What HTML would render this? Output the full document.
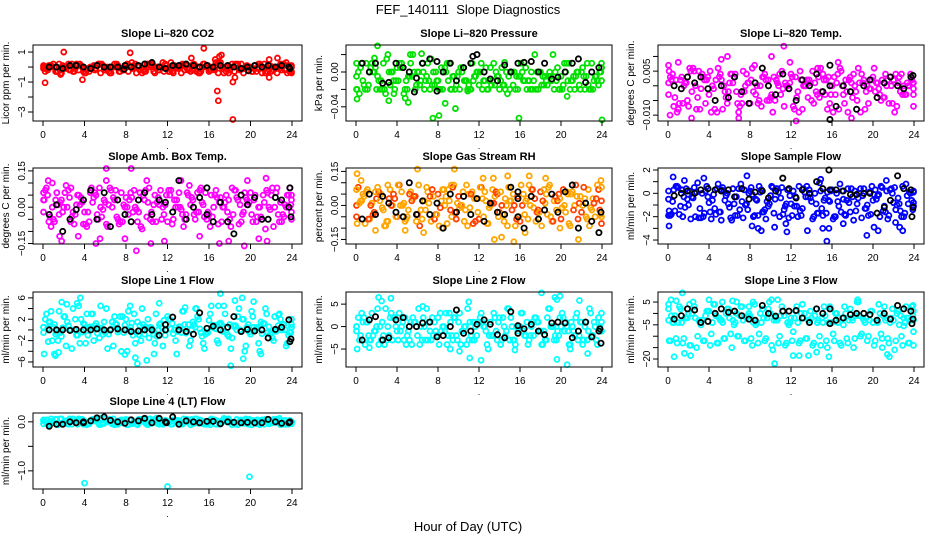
<!DOCTYPE html>
<html><head><meta charset="utf-8"><style>
html,body{margin:0;padding:0;background:#fff;}
svg{display:block;font-family:"Liberation Sans",sans-serif;}
</style></head><body>
<svg id="chart" width="936" height="540" viewBox="0 0 936 540" xmlns="http://www.w3.org/2000/svg">
<text x="468" y="14" text-anchor="middle" font-size="13">FEF_140111&#160;&#160;Slope Diagnostics</text>
<text x="468" y="531" text-anchor="middle" font-size="13">Hour of Day (UTC)</text>
</svg>
<script>
// shared hour categories
const hoursA = [0,0.67,1.33,2,2.67,3.33,4,4.67,5.33,6,6.67,7.33,8,8.67,9.33,10,10.67,11.33,12,12.67,13.33,14,14.67,15.33,16,16.67,17.33,18,18.67,19.33,20,20.67,21.33,22,22.67,23.33,24];
const blackHours = [0.6,1.3,1.9,2.6,3.2,3.9,4.6,5.2,5.9,6.5,7.2,7.9,8.5,9.2,9.8,10.5,11.2,11.8,12.5,13.1,13.8,14.5,15.1,15.8,16.4,17.1,17.8,18.4,19.1,19.7,20.4,21.1,21.7,22.4,23.0,23.7];
const xTicks = [0,4,8,12,16,20,24];

// Panel 1 CO2
const co2A = [-0.1,0.1,-0.3,0.0,-0.2,0.1,-0.4,-0.1,0.2,-0.2,0.0,-0.3,0.1,-0.1,-0.2,0.2,-0.3,0.0,-0.1,0.1,-0.4,-0.2,0.1,0.0,-0.3,0.3,-0.1,-0.2,0.1,-0.4,0.0,-0.1,0.2,-0.3,0.0,-0.2,0.1];
const co2B = [0.1,-0.2,0.0,-0.4,0.2,-0.1,0.0,-0.3,-0.1,0.1,-0.4,0.2,-0.2,0.0,0.1,-0.3,0.1,-0.2,0.2,-0.3,0.0,0.1,-0.2,-0.4,0.1,-0.1,0.3,0.0,-0.3,0.2,-0.2,0.1,-0.4,0.1,-0.1,0.2,-0.3];
const co2C = [-0.3,0.0,0.2,-0.1,-0.3,0.2,-0.2,0.1,-0.4,0.0,0.2,-0.1,-0.3,0.2,-0.4,0.0,-0.1,0.3,-0.3,0.0,0.1,-0.3,0.0,0.2,-0.2,-0.4,0.0,0.2,-0.1,0.0,-0.3,0.2,0.0,-0.2,0.2,-0.4,0.0];
const co2Out = [[0.2,-1.05],[2,1.0],[3.8,-0.85],[8.4,0.95],[14.3,0.6],[15.5,1.25],[16.8,-1.6],[16.9,-2.25],[18.3,-3.5],[18.3,-1.0],[18.5,-0.7],[17,0.7],[17.2,0.8],[16.6,0.5],[21.8,0.5],[22.6,0.6],[21.8,-0.7],[1.7,-0.5]];
const co2Black = [0.0,0.0,-0.1,0.1,0.1,0.0,-0.1,0.1,0.0,0.0,0.0,0.1,0.0,0.1,0.2,0.3,0.0,-0.1,0.1,0.1,0.2,0.1,0.0,0.1,0.0,0.1,0.1,0.0,-0.1,0.0,0.1,0.0,0.1,0.0,0.1,0.0];
const co2BlackExtra = [[7.8,-0.15],[19.8,-0.25],[23.8,-0.1]];

// Panel 2 Pressure
const presA = [0.01,-0.01,0.00,-0.02,0.01,-0.015,0.005,-0.025,0.01,0.00,-0.02,0.015,-0.01,0.005,-0.02,0.0,-0.01,0.01,-0.015,0.005,-0.01,-0.02,0.0,-0.015,-0.005,-0.02,-0.01,0.0,-0.015,-0.02,-0.005,-0.01,-0.02,0.0,-0.015,-0.005,0.005];
const presB = [-0.005,0.005,-0.02,0.0,-0.01,0.02,-0.02,0.01,-0.005,-0.02,0.01,-0.01,0.0,-0.02,0.01,-0.015,0.005,-0.02,0.0,-0.01,0.005,-0.005,-0.015,0.0,-0.02,-0.01,0.0,-0.02,-0.005,-0.01,-0.02,0.0,-0.01,-0.015,-0.005,-0.02,0.0];
const presC = [0.0,-0.02,0.01,-0.01,-0.025,0.0,0.01,-0.01,0.02,-0.015,-0.005,0.0,-0.02,0.01,-0.005,0.005,-0.02,-0.005,0.01,-0.02,-0.015,0.005,-0.005,-0.02,0.0,-0.01,-0.02,-0.005,0.0,-0.01,-0.015,-0.02,0.0,-0.005,-0.02,-0.01,-0.01];
const presOut = [[0.1,-0.031],[2.1,0.03],[1.8,0.016],[3.2,-0.033],[3.7,-0.025],[4.8,-0.03],[5.1,-0.035],[5.3,0.02],[6.4,0.021],[7.5,-0.053],[8.1,-0.05],[8.7,-0.036],[9.7,-0.042],[15.9,-0.053],[24,-0.055],[20.6,-0.028],[14.5,0.011],[10.9,-0.022]];
const presBlack = [0.01,0.0,0.01,-0.013,-0.012,0.01,0.005,0.0,-0.007,0.01,0.015,-0.022,0.0,0.01,-0.01,0.005,0.01,0.02,0.0,-0.008,-0.01,0.008,0.0,0.01,0.011,0.012,0.0,0.01,-0.008,-0.006,0.0,0.01,0.015,-0.012,0.0,0.005];
const presBlackExtra = [[11.4,0.018],[7.9,0.012],[5.7,-0.023]];

// Panel 3 Li-820 Temp
const tempA = [0.001,-0.004,0.003,-0.007,0.0,0.004,-0.003,0.002,-0.008,0.001,-0.002,0.005,-0.006,0.0,0.003,-0.004,0.001,-0.007,0.004,-0.002,0.0,-0.005,0.003,-0.003,0.0,-0.008,0.002,-0.004,0.001,-0.002,0.003,-0.003,0.0,0.002,-0.002,0.001,-0.001];
const tempB = [-0.003,0.004,-0.006,0.001,0.006,-0.008,0.002,-0.001,0.004,-0.006,0.003,-0.003,0.001,0.007,-0.007,0.002,-0.005,0.005,-0.001,0.003,-0.008,0.002,-0.002,0.004,-0.006,0.001,-0.003,0.003,-0.005,0.002,-0.001,0.001,-0.004,0.0,0.001,-0.003,0.002];
const tempC = [0.003,-0.009,0.0,0.005,-0.004,0.002,-0.009,0.006,-0.002,0.004,-0.009,0.0,0.006,-0.005,0.002,-0.009,0.004,0.0,-0.007,0.005,0.002,-0.006,0.006,-0.008,0.003,0.005,-0.009,0.0,0.004,-0.006,-0.002,0.002,-0.006,0.004,-0.003,0.0,0.001];
const tempOut = [[1,0.008],[0.2,-0.01],[2.3,-0.011],[5.2,0.009],[5.8,0.01],[6.9,-0.011],[10.1,0.01],[11.3,0.0135],[11.9,0.008],[12.5,-0.012],[16.6,0.008],[17.9,-0.011],[14.6,0.006]];
const tempBlack = [0.0,-0.001,0.003,0.001,0.003,-0.001,-0.005,0.0,-0.004,0.003,-0.002,-0.006,0.001,0.006,0.0,-0.003,0.004,-0.001,-0.005,0.002,0.0,0.004,-0.002,0.0,-0.007,0.0,-0.002,-0.008,0.000,0.002,-0.004,0.001,0.003,0.0,-0.001,0.003];
const tempBlackExtra = [[15.8,-0.0115],[15.8,0.007],[23.9,0.0035]];

// Panel 4 Amb. Box Temp
const ambA = [0.03,-0.04,0.06,0.0,-0.06,0.05,-0.02,0.08,-0.05,0.02,0.0,-0.07,0.04,-0.02,0.06,-0.04,0.01,0.07,-0.06,0.03,-0.01,0.05,-0.05,0.02,-0.03,0.07,0.0,-0.05,0.04,-0.02,0.06,-0.04,0.02,0.05,-0.03,0.01,0.03];
const ambB = [-0.02,0.05,-0.06,0.03,0.07,-0.03,0.02,-0.06,0.05,-0.01,0.08,-0.04,0.01,0.06,-0.06,0.03,-0.02,0.04,0.01,-0.07,0.06,-0.03,0.03,0.07,-0.05,0.0,0.04,-0.02,0.07,-0.06,0.01,0.05,-0.05,0.0,0.06,-0.03,0.08];
const ambC = [0.07,0.0,-0.03,0.09,-0.02,0.01,-0.08,0.04,0.0,-0.08,0.03,0.06,-0.03,0.0,-0.09,0.08,-0.06,0.0,0.05,0.03,-0.08,0.01,0.06,-0.04,0.05,-0.07,0.02,0.08,-0.07,0.04,-0.06,0.0,0.07,-0.08,0.02,0.05,-0.05];
const ambOut = [[0.5,0.11],[0.9,0.1],[1.6,-0.12],[1.8,-0.14],[2.7,0.08],[3.4,-0.12],[5.1,-0.15],[5.5,-0.13],[6.1,0.16],[6.1,0.11],[8.5,0.16],[7.9,-0.13],[9.0,-0.18],[10,0.11],[10.4,-0.15],[11.7,-0.14],[13.3,0.11],[15.1,-0.12],[17,-0.15],[17.9,-0.14],[19.4,-0.16],[20.8,-0.13],[21.6,-0.14],[19.7,0.11],[21.5,0.12]];
const ambBlack = [-0.03,0.01,-0.1,-0.05,-0.01,0.03,0.07,-0.05,0.06,-0.08,0.03,-0.03,-0.06,0.03,0.06,-0.03,0.03,0.02,-0.02,0.11,-0.05,0.0,0.04,0.08,-0.06,0.02,-0.06,-0.11,0.05,0.01,0.04,-0.05,-0.05,0.04,0.03,0.0];
const ambBlackExtra = [[23.8,0.08],[23.9,-0.04],[15.8,-0.03]];

// Panel 5 Gas Stream RH
const rhA = [0.0,0.05,-0.06,0.03,-0.02,0.07,-0.05,0.01,0.06,-0.04,0.02,-0.07,0.05,0.0,-0.05,0.04,-0.02,0.06,-0.06,0.02,0.07,-0.03,0.0,0.05,-0.07,0.03,-0.01,0.06,-0.04,0.02,-0.06,0.05,0.0,-0.03,0.07,-0.05,0.02];
const rhB = [-0.05,0.02,0.07,-0.03,0.05,-0.07,0.03,0.06,-0.02,0.04,-0.06,0.01,-0.04,0.07,0.02,-0.06,0.06,-0.01,0.03,-0.05,0.0,0.05,-0.07,0.02,0.04,-0.04,0.07,-0.02,0.01,-0.07,0.05,-0.03,0.06,0.01,-0.05,0.03,-0.02];
const rhC = [0.08,-0.08,0.01,0.06,-0.09,0.0,0.09,-0.06,0.03,-0.09,0.08,0.04,-0.01,-0.08,0.09,0.0,-0.09,0.03,0.08,-0.08,0.04,0.0,0.08,-0.09,0.0,0.09,-0.07,0.02,0.09,-0.02,0.07,-0.09,0.04,0.08,-0.01,0.09,-0.08];
const rhOut = [[0.1,0.14],[0.5,0.11],[1.9,-0.11],[3.1,0.09],[4.8,-0.11],[6,0.16],[6.6,-0.12],[8.4,-0.1],[9.6,0.16],[9.3,0.09],[12.4,0.12],[13.4,0.12],[13.5,-0.15],[14.2,-0.14],[14.8,0.13],[15.4,-0.16],[16.5,-0.12],[16.9,0.13],[18.5,0.12],[21.7,-0.15],[19.9,-0.1],[23.9,0.11]];
const rhBlack = [-0.06,0.05,-0.04,0.04,0.01,-0.03,-0.05,0.1,-0.04,0.02,-0.04,0.01,-0.1,0.05,-0.03,0.04,-0.04,0.03,-0.07,0.01,-0.03,-0.04,0.08,-0.05,-0.1,0.04,-0.06,-0.02,0.05,-0.03,0.06,0.09,-0.1,0.01,-0.07,-0.12];
const rhBlackExtra = [[15.8,0.03],[15.8,0.06],[23.9,-0.03]];

// Panel 6 Sample Flow
const sfA = [-0.5,-1.5,0.3,-1.0,-2.0,0.0,-0.8,-1.8,0.5,-1.2,-0.3,-2.1,0.2,-0.6,-1.6,-0.2,0.4,-1.4,-0.9,-2.0,0.1,-0.7,-1.7,-0.4,0.3,-1.1,-1.9,-0.3,0.0,-1.3,-0.6,-2.0,0.2,-0.8,-1.5,-0.2,0.1];
const sfB = [0.2,-0.7,-1.8,0.4,-0.4,-1.3,0.6,-0.1,-1.6,0.0,-0.9,0.8,-1.4,-1.9,0.3,-1.1,-0.5,0.5,-2.1,-0.3,-1.3,0.3,-0.9,-1.9,-0.7,0.0,-0.5,-1.6,-0.9,0.4,-1.8,-0.2,-1.1,0.4,-0.4,-1.7,-0.6];
const sfC = [-1.9,0.6,-0.3,-2.2,0.9,-1.7,-2.2,0.8,-0.6,-2.3,0.4,-1.0,-0.1,0.6,-2.2,0.5,-2.0,-0.9,0.2,-1.5,0.6,-2.0,0.2,0.1,-2.0,-1.6,0.4,0.2,-2.1,-1.9,0.3,0.5,-1.9,-1.4,0.6,0.1,-1.1];
const sfOut = [[0.1,-2.8],[0.5,1.4],[1.6,1.1],[3.5,1.3],[5.2,-2.3],[7.7,1.5],[8.2,-2.8],[8.8,-3.0],[9.1,-3.2],[10.4,-2.9],[11.5,-2.6],[11.6,-3.3],[13.6,-3.2],[14.9,1.2],[15.1,-3.0],[15.5,-4.1],[15.7,-3.0],[17.1,-2.6],[19.4,-3.6],[20.1,-2.9],[20.5,-3.2],[21.3,1.1],[22.2,-2.5],[22.6,-2.9],[22.9,-3.2]];
const sfBlack = [-0.2,0.0,0.2,0.0,0.3,0.4,0.3,0.2,0.3,-0.3,0.4,-0.5,0.1,0.2,-0.4,0.2,1.3,0.4,-0.4,0.3,0.0,1.0,0.4,0.3,0.3,0.2,-0.1,-0.1,0.0,0.0,-1.7,-1.2,-0.6,1.5,0.4,0.3];
const sfBlackExtra = [[15.7,2.0],[23.9,-1.2],[23.8,-2.0]];

// Panel 7 Line 1 Flow
const l1A = [0.5,1.5,-0.5,2.5,0.0,-1.0,1.0,3.0,0.5,-0.5,1.5,0.0,2.0,-1.0,0.8,0.3,-0.8,1.2,2.5,0.0,-0.5,1.0,0.5,-1.2,1.8,0.2,-0.3,1.0,0.0,2.0,-0.8,0.5,1.2,-0.5,0.8,0.0,0.5];
const l1B = [-0.5,0.3,1.0,-1.2,0.8,2.0,-0.4,0.3,1.2,-0.8,0.0,1.0,-0.5,0.5,1.5,-0.8,0.4,0.0,-1.0,1.2,0.6,-0.6,1.5,0.2,-0.4,0.9,1.3,-0.9,0.6,-0.2,1.0,0.0,-0.7,0.6,-0.3,1.0,-0.5];
const l1C = [2.0,-2.0,3.5,-3.0,4.0,-2.5,3.0,-2.0,4.5,-3.5,2.5,-4.0,3.5,-2.5,4.0,-1.5,3.0,-3.0,2.0,-4.5,3.5,-2.0,2.5,-3.5,4.5,-2.5,3.0,-1.5,4.0,-3.0,2.5,-4.0,3.0,-2.0,2.0,-2.5,0.5];
const l1Out = [[0.5,-2.2],[1.1,-4.5],[1.2,-4.8],[1.5,-4.2],[1.8,5.2],[2.3,4.8],[3.3,5.0],[3.6,6.0],[7.9,-4.6],[8.4,4.5],[8.9,-5.2],[9.1,-6.3],[10,-5.7],[10.7,-4.5],[11.2,5.0],[13.7,4.2],[14.7,4.0],[17.1,6.8],[16.9,4.5],[18.1,-6.7],[18.5,5.5],[19.2,6.0],[19.3,-5.4],[20.3,5.3],[21,-4.5],[22.7,2.8]];
const l1Black = [0.0,0.0,0.0,-0.1,0.1,0.0,0.0,0.2,0.0,0.0,0.2,0.0,-0.3,-0.2,0.0,0.0,-1.0,0.0,2.4,0.0,-0.3,-0.8,3.2,0.3,0.7,0.0,0.5,2.5,-0.3,0.1,-0.2,0.0,-1.5,0.1,0.5,1.9];
const l1BlackExtra = [[23.9,-1.7],[23.8,-2.2],[11.8,1.0]];

// Panel 8 Line 2 Flow
const l2A = [-1,1,-3,0,-2,2,-1,-3,1,-2,0,-3,2,-1,-2,1,0,-3,1,-1,-2,2,-1,-3,0,1,-2,-1,2,-3,0,-1,-2,1,-1,0,-1];
const l2B = [0,-2,1,-1,-3,0,2,0,-1,1,-3,1,-1,0,3,-2,-1,1,-2,0,1,-3,0,2,-1,-2,0,1,-3,0,-2,1,0,-2,1,-2,0];
const l2C = [2,-4,3,-4,4,-3,3,-4,2,-4,4,-2,3,-4,2,-4,4,-3,3,-5,2,-3,4,-4,3,-3,2,-4,4,-3,2,-4,3,-3,3,-4,1];
const l2Out = [[1.3,-4.7],[2.2,6.5],[2.5,5.7],[3.4,6.3],[6.5,4.5],[9.2,-5],[10.1,-5.5],[11,5.5],[11.1,-7],[12.2,-7.5],[15.5,-5.2],[18.1,7.5],[19.6,-7.3],[19.4,6.5],[19.6,6],[19.9,6.8],[20.6,-8.5],[20.9,-5],[22.6,-6],[21.8,5.8]];
const l2Black = [-3,1.5,2.2,-3,-2.5,1.5,2,0,0,0.8,1,-2.3,-2,0,3.7,-1.5,-1,0.5,1.5,0.5,-1.8,-2.5,3.3,0.2,-0.5,0.5,-1,-1.8,0.8,1,0.8,-2.5,-1,1,-2.3,-1];
const l2BlackExtra = [[23.9,-3.7],[23.8,-0.5],[15.8,-1.5]];

// Panel 9 Line 3 Flow
const l3A = [-3,-1,-4,0,-2,-3,1,-1,-4,-2,0,-3,-1,-4,-2,0,-3,-1,-2,-4,0,-2,-3,-1,-4,-2,0,-3,-1,-2,-4,0,-2,-3,-1,-2,-3];
const l3B = [2,-4,3,-2,5,-4,1,4,-3,2,-5,3,-1,4,-4,2,-2,3,-5,1,4,-3,2,-4,3,0,-5,2,5,-3,1,-4,3,-2,1,-4,3];
const l3C = [-12,-13,-11,-14,-10,-12,-9,-13,-11,-15,-10,-12,-14,-9,-11,-16,-10,-13,-8,-12,-11,-13,-14,-15,-12,-14,-13,-11,-9,-10,-12,-11,-13,-12,-14,-13,-14];
const l3Out = [[0.6,-19],[1.6,-17.5],[2.2,-18.5],[0.3,6],[0.8,5.5],[1.4,9],[2.1,4],[4,6],[5.3,5],[6.3,5.5],[6.7,5],[7.9,3],[8.3,5],[10.4,-22],[10.1,6],[10.7,6],[12.2,-18.5],[12.8,-18.5],[13.7,-18.5],[14.5,-17],[15.7,-19],[18.5,6],[20.9,-15],[21.4,-18],[21.6,-19],[23,-5.5],[23.9,3.5]];
const l3Black = [-2.5,-1,2,1.5,-4,-3.5,0,2,0.5,1,-1,-2.5,-3,3.5,0,-1.2,1,1,1.3,-2,-4,2,0,2,-3,-2,-0.5,0,0,-0.5,-3,0,-2.5,3.5,2,1];
const l3BlackExtra = [[23.9,-2.5],[23.8,-4.5],[15.8,-4.5]];

// Panel 10 Line 4 (LT) Flow
const l4A = [0.02,-0.03,0.05,-0.01,0.03,-0.05,0.0,0.04,-0.02,0.06,-0.04,0.01,0.05,-0.03,0.02,-0.05,0.03,0.0,-0.02,0.04,-0.04,0.01,0.06,-0.03,0.02,-0.05,0.03,-0.01,0.05,-0.03,0.01,0.04,-0.05,0.02,-0.02,0.03,0.0];
const l4B = [-0.04,0.04,-0.02,0.06,-0.05,0.02,0.05,-0.04,0.03,-0.03,0.05,-0.05,0.0,0.04,-0.06,0.05,-0.03,0.06,0.03,-0.05,0.02,0.05,-0.03,0.04,-0.05,0.03,-0.04,0.05,-0.03,0.04,-0.05,0.02,0.04,-0.04,0.05,-0.03,0.03];
const l4C = [0.0,0.01,-0.05,0.02,0.06,0.0,-0.06,0.02,0.07,0.0,-0.06,0.04,-0.06,0.0,0.05,-0.02,0.07,-0.05,0.0,0.02,0.06,-0.06,0.0,-0.05,0.06,0.0,0.05,-0.06,0.0,0.06,0.03,-0.06,0.0,0.05,-0.06,0.0,-0.04];
const l4Out = [[4,-1.25],[12,-1.32],[19.9,-1.12]];
const l4Black = [-0.09,-0.05,-0.05,0.0,-0.02,-0.02,0.02,0.08,0.1,0.03,0.0,-0.03,0.04,0.02,0.07,-0.02,0.07,0.0,0.1,-0.05,0.02,0.0,-0.02,0.01,0.01,-0.04,0.0,-0.01,-0.02,-0.01,-0.02,-0.02,0.05,0.0,-0.03,-0.02];
const l4BlackExtra = [[3.9,0.0],[11.9,-0.02],[23.8,0.0]];

const panels = [
 {name:'co2',title:'Slope Li\u2013820 CO2',ylab:'Licor ppm per min.',col:'#ff0000',r:0,c:0,ylim:[-3.6,1.47],ticks:[-3,-2,-1,0,1],labels:['\u22123','','\u22121','','1'],A:co2A,B:co2B,C:co2C,out:co2Out,blk:co2Black,bx:co2BlackExtra},
 {name:'pressure',title:'Slope Li\u2013820 Pressure',ylab:'kPa per min.',col:'#00e000',r:0,c:1,ylim:[-0.0563,0.031],ticks:[-0.04,-0.02,0,0.02],labels:['\u22120.04','','0.00',''],A:presA,B:presB,C:presC,out:presOut,blk:presBlack,bx:presBlackExtra},
 {name:'li820-temp',title:'Slope Li\u2013820 Temp.',ylab:'degrees C per min.',col:'#ff00ff',r:0,c:2,ylim:[-0.012,0.0139],ticks:[-0.01,-0.005,0,0.005,0.01],labels:['\u22120.010','','','0.005',''],A:tempA,B:tempB,C:tempC,out:tempOut,blk:tempBlack,bx:tempBlackExtra},
 {name:'amb-box-temp',title:'Slope Amb. Box Temp.',ylab:'degrees C per min.',col:'#ff00ff',r:1,c:0,ylim:[-0.152,0.162],ticks:[-0.15,-0.1,-0.05,0,0.05,0.1,0.15],labels:['\u22120.15','','','0.00','','','0.15'],A:ambA,B:ambB,C:ambC,out:ambOut,blk:ambBlack,bx:ambBlackExtra},
 {name:'gas-stream-rh',title:'Slope Gas Stream RH',ylab:'percent per min.',col:'#ffa500',col2:'#ff4000',r:1,c:1,ylim:[-0.17,0.165],ticks:[-0.15,-0.1,-0.05,0,0.05,0.1,0.15],labels:['\u22120.15','','','0.00','','','0.15'],A:rhA,B:rhB,C:rhC,out:rhOut,blk:rhBlack,bx:rhBlackExtra},
 {name:'sample-flow',title:'Slope Sample Flow',ylab:'ml/min per min.',col:'#0000ff',r:1,c:2,ylim:[-4.34,2.17],ticks:[-4,-3,-2,-1,0,1,2],labels:['\u22124','','\u22122','','0','','2'],A:sfA,B:sfB,C:sfC,out:sfOut,blk:sfBlack,bx:sfBlackExtra},
 {name:'line1-flow',title:'Slope Line 1 Flow',ylab:'ml/min per min.',col:'#00ffff',r:2,c:0,ylim:[-6.94,7.1],ticks:[-6,-4,-2,0,2,4,6],labels:['\u22126','','\u22122','','2','','6'],A:l1A,B:l1B,C:l1C,out:l1Out,blk:l1Black,bx:l1BlackExtra},
 {name:'line2-flow',title:'Slope Line 2 Flow',ylab:'ml/min per min.',col:'#00ffff',r:2,c:1,ylim:[-9,7.7],ticks:[-5,0,5],labels:['\u22125','0','5'],A:l2A,B:l2B,C:l2C,out:l2Out,blk:l2Black,bx:l2BlackExtra},
 {name:'line3-flow',title:'Slope Line 3 Flow',ylab:'ml/min per min.',col:'#00ffff',r:2,c:2,ylim:[-23.5,9.4],ticks:[-20,-15,-10,-5,0,5],labels:['\u221220','','','\u22125','','5'],A:l3A,B:l3B,C:l3C,out:l3Out,blk:l3Black,bx:l3BlackExtra},
 {name:'line4-flow',title:'Slope Line 4 (LT) Flow',ylab:'ml/min per min.',col:'#00ffff',r:3,c:0,ylim:[-1.37,0.18],ticks:[-1,-0.5,0],labels:['\u22121.0','','0.0'],A:l4A,B:l4B,C:l4C,out:l4Out,blk:l4Black,bx:l4BlackExtra}
];

const colX0=[33,346,658], colX1=[302,612,924];
const rowY0=[45,168,292,413], rowY1=[121,244,367,489];
const NS='http://www.w3.org/2000/svg';
const svg=document.getElementById('chart');
function mk(tag,attrs,parent){const e=document.createElementNS(NS,tag);for(const k in attrs)e.setAttribute(k,attrs[k]);(parent||svg).appendChild(e);return e;}

panels.forEach(p=>{
  const x0=colX0[p.c],x1=colX1[p.c],y0=rowY0[p.r],y1=rowY1[p.r];
  const xs=h=>x0+10+h*(x1-x0-20)/24;
  const ys=v=>y1-(v-p.ylim[0])/(p.ylim[1]-p.ylim[0])*(y1-y0);
  const g=mk('g',{});
  
  
  const t=mk('text',{x:(x0+x1)/2,y:y0-8,'text-anchor':'middle','font-size':11,'font-weight':'bold'},g);
  
  
  t.textContent=p.title;
  const yl=mk('text',{x:0,y:0,'text-anchor':'middle','font-size':10,transform:`translate(${x0-24},${(y0+y1)/2}) rotate(-90)`},g);
  
  
  yl.textContent=p.ylab;
  // colored points (dense cloud: each series drawn at its hours, plus neighbouring-hour companions)
  const pts=mk('g',{fill:'none',stroke:p.col,'stroke-width':1.8},g);
  
  
  const clampH=h=>Math.max(0.05,Math.min(23.95,h));
  const passes=[[p.A,0,0],[p.B,-0.22,0],[p.C,0.22,0],[p.A,0.33,7],[p.B,-0.11,13],[p.C,0.11,19]];
  passes.forEach(([arr,off,shift])=>{
    const n=arr.length;
    arr.forEach((v,i)=>{
      const val=arr[(i+shift)%n];
      const c=mk('circle',{cx:xs(clampH(hoursA[i]+off)),cy:ys(shift?val:v),r:2.5},pts);
      if(p.col2&&((i+shift)%3===0))c.setAttribute('stroke',p.col2);
      
      
    });
  });
  p.out.forEach(([h,v])=>{
    const c=mk('circle',{cx:xs(h),cy:ys(v),r:2.5},pts);
    
    
  });
  const bp=mk('g',{fill:'none',stroke:'#000','stroke-width':1.8},g);
  
  
  p.blk.forEach((v,i)=>{
    const c=mk('circle',{cx:xs(blackHours[i]),cy:ys(v),r:2.6},bp);
    
    
  });
  p.bx.forEach(([h,v])=>{
    const c=mk('circle',{cx:xs(h),cy:ys(v),r:2.6},bp);
    
    
  });
  const b=mk('rect',{x:x0,y:y0,width:x1-x0,height:y1-y0,fill:'none',stroke:'#000','stroke-width':1},g);
  
  
  const xa=mk('g',{},g);
  
  
  mk('line',{x1:xs(0),x2:xs(24),y1:y1,y2:y1,stroke:'#000'},xa);
  xTicks.forEach(h=>{
    mk('line',{x1:xs(h),x2:xs(h),y1:y1,y2:y1+5,stroke:'#000'},xa);
    const tl=mk('text',{x:xs(h),y:y1+17,'text-anchor':'middle','font-size':10},xa);
    
    
    tl.textContent=h;
  });
  const dot=mk('text',{x:(x0+x1)/2,y:y1+28,'text-anchor':'middle','font-size':9},xa);
  dot.textContent='.';
  const ya=mk('g',{},g);
  
  
  p.ticks.forEach((v,i)=>{
    mk('line',{x1:x0-5,x2:x0,y1:ys(v),y2:ys(v),stroke:'#000'},ya);
    if(p.labels[i]){
      const tl=mk('text',{x:0,y:0,'text-anchor':'middle','font-size':10,transform:`translate(${x0-8},${ys(v)}) rotate(-90)`},ya);
      
      
      tl.textContent=p.labels[i];
    }
  });
});
</script>
</body></html>
